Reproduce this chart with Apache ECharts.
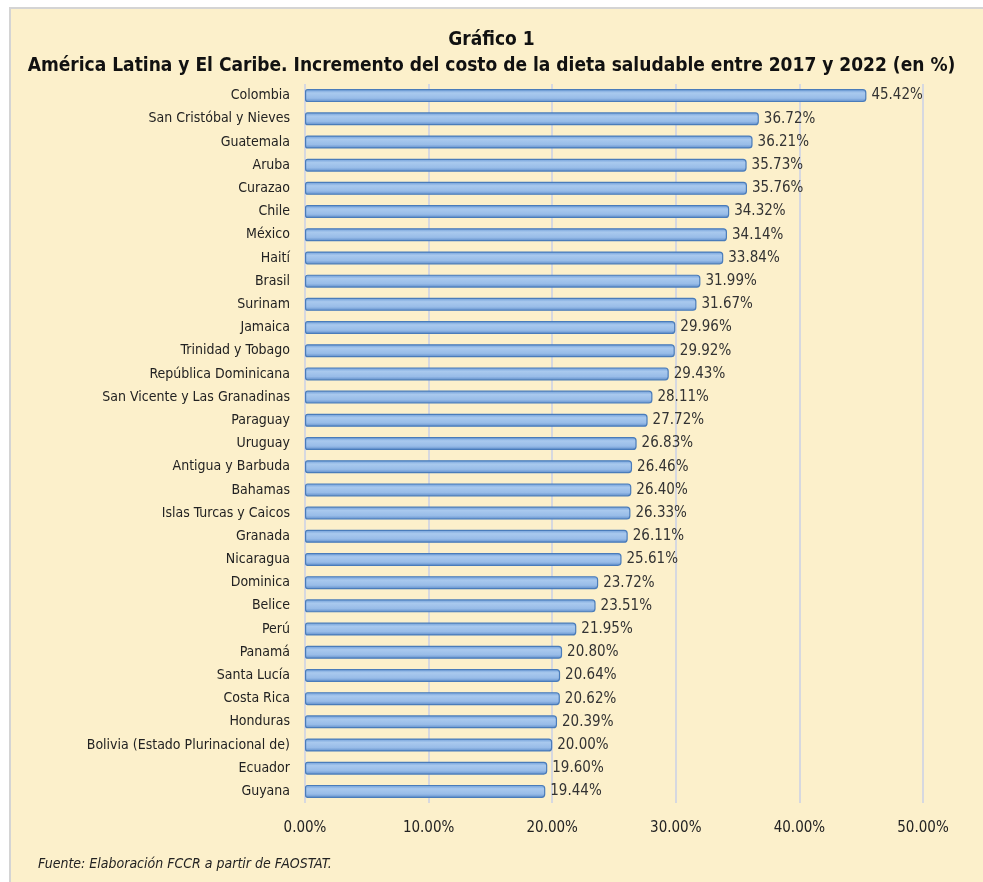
<!DOCTYPE html>
<html>
<head>
<meta charset="utf-8">
<script src="https://cdn.jsdelivr.net/npm/echarts@6/dist/echarts.min.js"></script>
<style>
  html, body { margin: 0; padding: 0; background: #fff; }
  #chart { width: 983px; height: 882px; }
</style>
</head>
<body>
<div id="chart"></div>
<script>
// datos del gráfico (de arriba hacia abajo)
var paises = [
  'Colombia', 'San Cristóbal y Nieves', 'Guatemala', 'Aruba', 'Curazao', 'Chile',
  'México', 'Haití', 'Brasil', 'Surinam', 'Jamaica', 'Trinidad y Tobago',
  'República Dominicana', 'San Vicente y Las Granadinas', 'Paraguay', 'Uruguay',
  'Antigua y Barbuda', 'Bahamas', 'Islas Turcas y Caicos', 'Granada', 'Nicaragua',
  'Dominica', 'Belice', 'Perú', 'Panamá', 'Santa Lucía', 'Costa Rica', 'Honduras',
  'Bolivia (Estado Plurinacional de)', 'Ecuador', 'Guyana'
];
var incremento = [
  45.42, 36.72, 36.21, 35.73, 35.76, 34.32,
  34.14, 33.84, 31.99, 31.67, 29.96, 29.92,
  29.43, 28.11, 27.72, 26.83,
  26.46, 26.40, 26.33, 26.11, 25.61,
  23.72, 23.51, 21.95, 20.80, 20.64, 20.62, 20.39,
  20.00, 19.60, 19.44
];
var ejeMin = 0;
var ejeMax = 50;
var ejePaso = 10;

var fuente = "'Liberation Sans Narrow', 'DejaVu Sans Condensed', 'Noto Sans', sans-serif";

var myChart = echarts.init(document.getElementById('chart'));

var option = {
  backgroundColor: '#ffffff',
  animation: false,
  textStyle: { fontFamily: fuente },
  graphic: [
    {
      type: 'rect',
      z: -10,
      shape: { x: 10, y: 8, width: 980, height: 880 },
      style: { fill: '#fcf0cb', stroke: '#d4d4d4', lineWidth: 2 }
    },
    {
      type: 'text',
      left: 38,
      top: 857,
      style: {
        text: 'Fuente: Elaboración FCCR a partir de FAOSTAT.',
        font: 'italic 14px ' + fuente,
        fill: '#222'
      }
    }
  ],
  title: [
    {
      text: 'Gráfico 1',
      left: 'center',
      top: 26,
      textStyle: { fontSize: 19, fontWeight: 'bold', color: '#111', fontFamily: fuente }
    },
    {
      text: 'América Latina y El Caribe. Incremento del costo de la dieta saludable entre 2017 y 2022 (en %)',
      left: 'center',
      top: 52,
      textStyle: { fontSize: 19, fontWeight: 'bold', color: '#111', fontFamily: fuente }
    }
  ],
  grid: {
    left: 305,
    right: 60,
    top: 84,
    bottom: 79,
    containLabel: false
  },
  xAxis: {
    type: 'value',
    min: ejeMin,
    max: ejeMax,
    interval: ejePaso,
    axisLine: { show: false },
    axisTick: { show: false },
    axisLabel: {
      margin: 18,
      fontSize: 15,
      color: '#222',
      formatter: function (v) { return v.toFixed(2) + '%'; }
    },
    splitLine: { lineStyle: { color: '#d6d8e0', width: 2 } }
  },
  yAxis: {
    type: 'category',
    data: paises,
    inverse: true,
    axisLine: { show: false },
    axisTick: { show: false },
    axisLabel: { fontSize: 14, color: '#222', margin: 15 }
  },
  series: [
    {
      type: 'bar',
      data: incremento,
      barWidth: 13,
      itemStyle: {
        color: new echarts.graphic.LinearGradient(0, 0, 0, 1, [
          { offset: 0, color: '#6a9ad6' },
          { offset: 0.3, color: '#a9c9ee' },
          { offset: 0.7, color: '#98bce8' },
          { offset: 1, color: '#5b8ac8' }
        ]),
        borderColor: '#4a7cba',
        borderWidth: 1.2,
        borderRadius: [2, 3, 3, 2]
      },
      label: {
        show: true,
        position: 'right',
        distance: 5,
        fontSize: 15,
        color: '#333',
        formatter: function (p) { return p.value.toFixed(2) + '%'; }
      }
    }
  ]
};

myChart.setOption(option);
</script>
</body>
</html>
